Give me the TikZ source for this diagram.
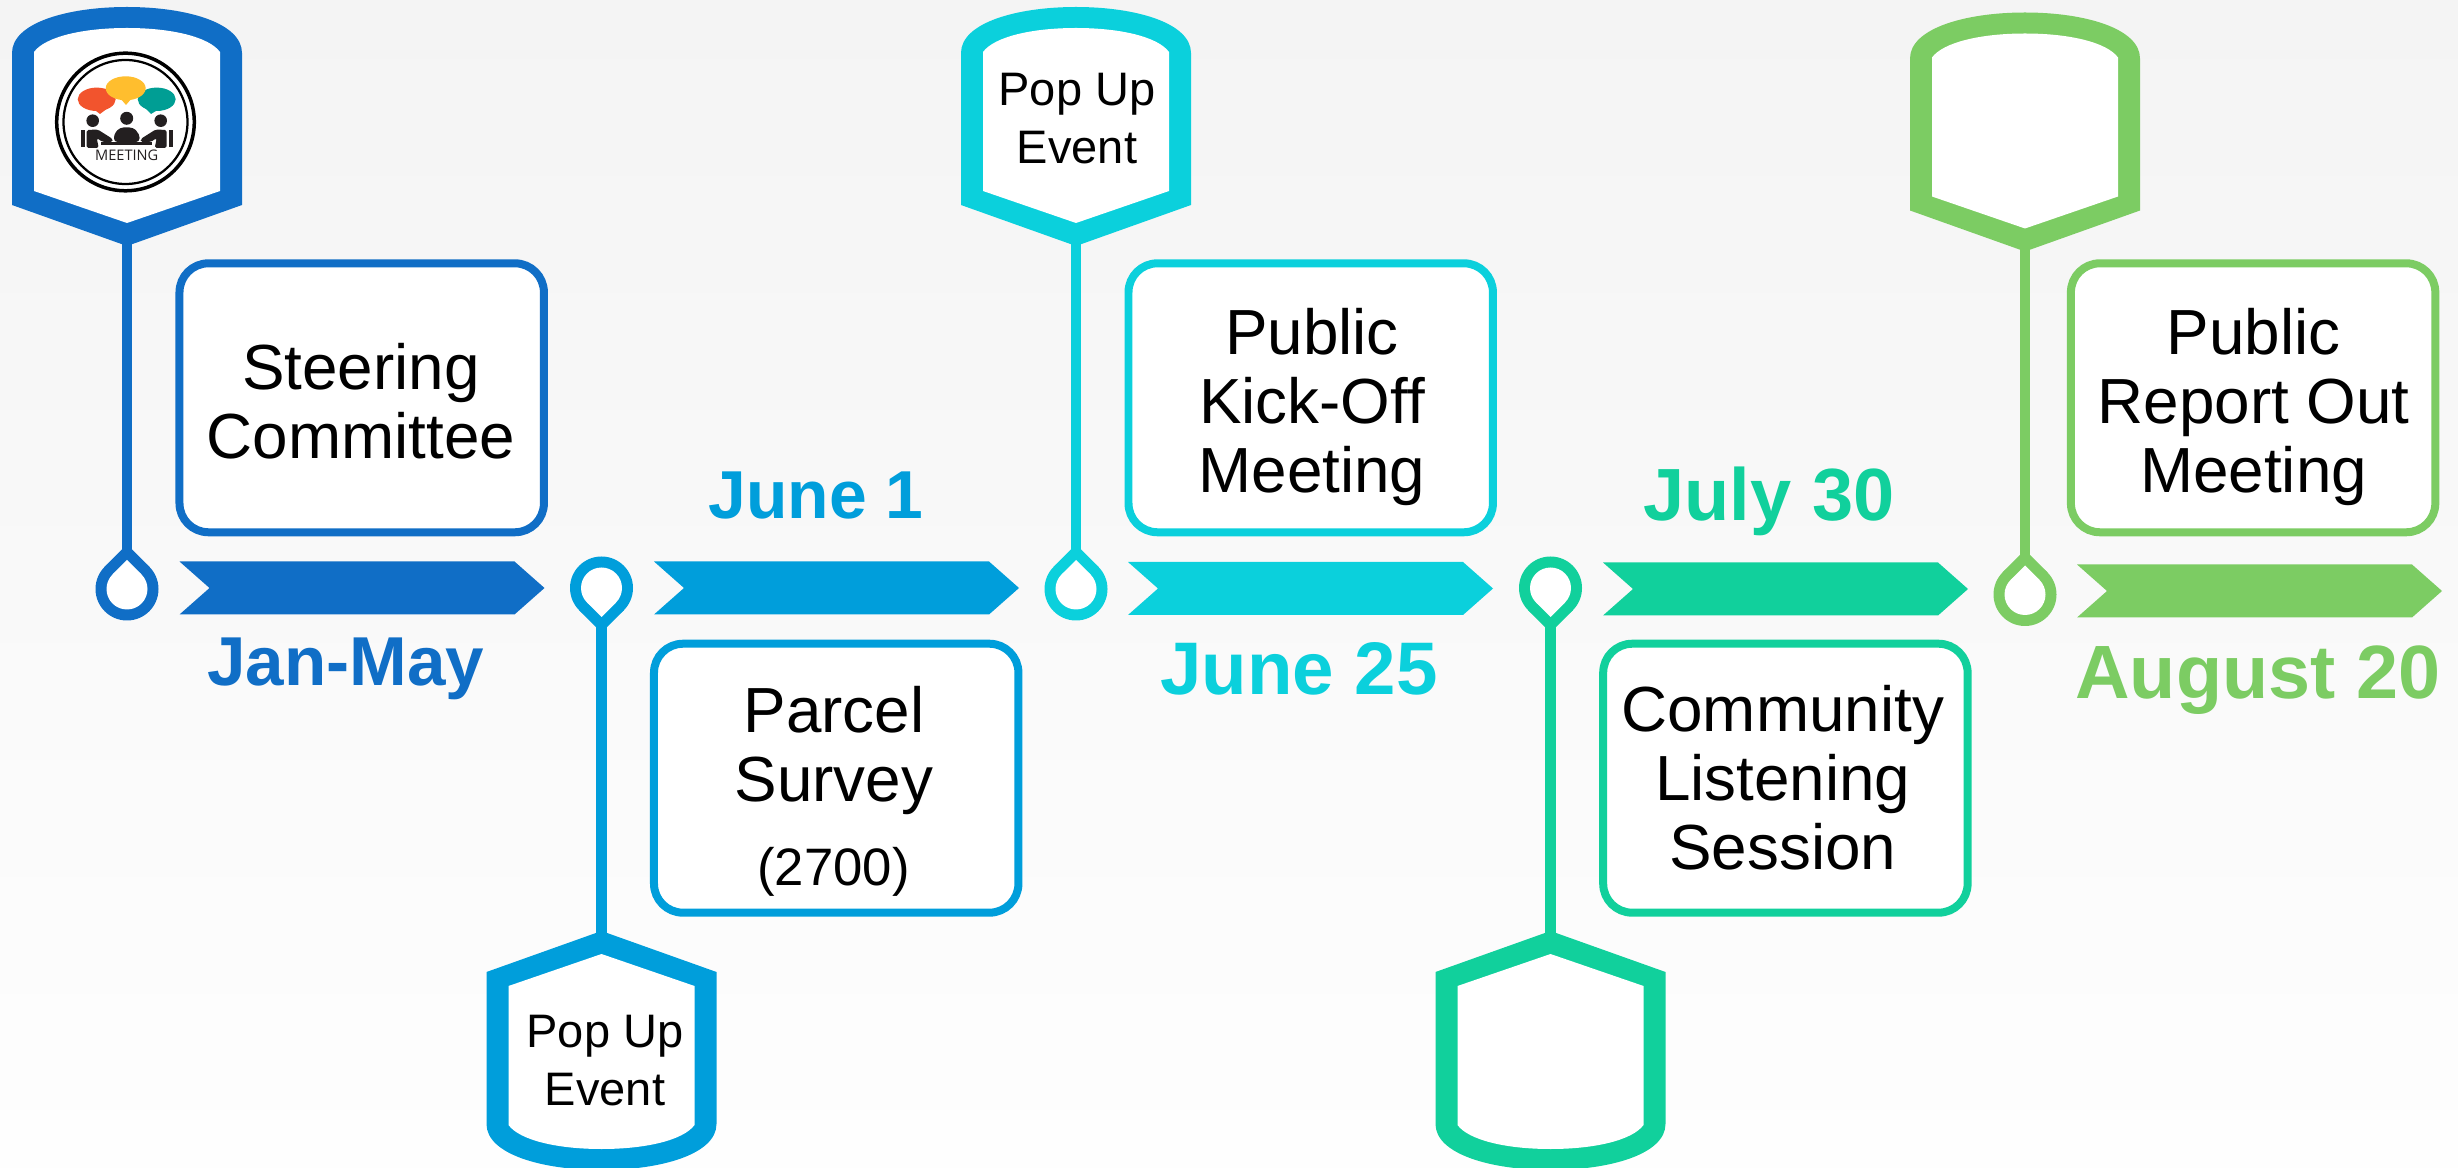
\documentclass[tikz,border=0pt]{standalone}
\usepackage{fontspec}
\usepackage{xcolor}
\setmainfont{Liberation Sans}
\newfontfamily\iconfont{Open Sans}

\definecolor{stagejan}{HTML}{106EC6}
\definecolor{stageparcel}{HTML}{009EDB}
\definecolor{stagekick}{HTML}{0BD0DC}
\definecolor{stagelisten}{HTML}{11D09C}
\definecolor{stagereport}{HTML}{7CCC63}
\definecolor{bgtop}{HTML}{F4F4F4}
\definecolor{bgbottom}{HTML}{FEFEFE}
\definecolor{bubbleorange}{HTML}{F2542D}
\definecolor{bubbleyellow}{HTML}{FFBE2E}
\definecolor{bubbleteal}{HTML}{009E94}
\definecolor{iconblack}{HTML}{231F20}

\tikzset{
    stagebox/.style={draw, fill=white, line width=0.16cm, rounded corners=0.58cm, minimum width=7.29cm, minimum height=5.38cm},
    stagetext/.style={align=center, inner sep=0pt, font=\fontsize{36.3pt}{39.3pt}\selectfont},
    poptext/.style={align=center, inner sep=0pt, font=\fontsize{26.75pt}{33pt}\selectfont},
    datelabel/.style={anchor=base, inner sep=0pt}
}

\begin{document}
\begin{tikzpicture}[x=0.02cm, y=-0.02cm]

    % Page and background
    \useasboundingbox (0,0) rectangle (2458,1168);
    \clip (0,0) rectangle (2458,1168);
    \shade[top color=bgtop, bottom color=bgbottom] (0,0) rectangle (2458,1168);

    % Pins, one head and one drop on each stem
    \foreach \name/\hue/\pinx/\piny/\flip in {jan/stagejan/127/589/1, parcel/stageparcel/601.5/588/-1, kick/stagekick/1076/589/1, listen/stagelisten/1550.5/588/-1, report/stagereport/2025/594.5/1} {
        \begin{scope}[shift={(\pinx,\piny)}, yscale=\flip]
            \coordinate (head\name) at (0,-350);
            \coordinate (drop\name) at (0,-30);
            % Stem
            \draw[\hue, line width=0.21cm] (head\name) -- (drop\name);
            % Head
            \fill[\hue] (-115,-536) .. controls (-115,-566) and (-60,-582) .. (0,-582) .. controls (60,-582) and (115,-566) .. (115,-536) -- (115,-384) -- (0,-343) -- (-115,-384) -- cycle;
            \fill[white] (-93,-537) .. controls (-82,-552) and (-45,-561) .. (0,-561) .. controls (45,-561) and (82,-552) .. (93,-537) -- (93,-398) -- (0,-366) -- (-93,-398) -- cycle;
            % Drop
            \fill[\hue] (0,0) circle[radius=31.5];
            \fill[\hue] (0,-44.5) -- (22.3,-22.3) -- (0,0) -- (-22.3,-22.3) -- cycle;
            \fill[white] (0,0) circle[radius=20.5];
            \fill[white] (0,-29) -- (14.5,-14.5) -- (0,0) -- (-14.5,-14.5) -- cycle;
        \end{scope}
    }

    % Chevrons on the time line
    \foreach \name/\hue/\chevx/\chevy in {jan/stagejan/179.5/588, parcel/stageparcel/654/588, kick/stagekick/1128/588.5, listen/stagelisten/1603/589, report/stagereport/2077/591} {
        \fill[\hue] (\chevx,\chevy-26.5) -- (\chevx+335,\chevy-26.5) -- (\chevx+365,\chevy) -- (\chevx+335,\chevy+26.5) -- (\chevx,\chevy+26.5) -- (\chevx+30,\chevy) -- cycle;
    }

    % Boxes
    \foreach \name/\hue/\boxx/\boxy in {jan/stagejan/361.7/397.8, parcel/stageparcel/836.2/778.2, kick/stagekick/1310.7/397.8, listen/stagelisten/1785.4/778.2, report/stagereport/2253.1/397.8} {
        \node[stagebox, draw=\hue] (box\name) at (\boxx,\boxy) {};
    }

    % Box texts
    \node[stagetext] (textjan) at (361,410.2) {\strut Steering\\\strut Committee};
    \node[stagetext] (textparcel) at (834,752.8) {\strut Parcel\\\strut Survey};
    \node[datelabel, font=\fontsize{30pt}{33pt}\selectfont] (countparcel) at (833.5,885.7) {(2700)};
    \node[stagetext] (textkick) at (1312,410) {\strut Public\\\strut Kick-Off\\\strut Meeting};
    \node[stagetext] (textlisten) at (1782.7,786.8) {\strut Community\\\strut Listening\\\strut Session};
    \node[stagetext] (textreport) at (2253.6,409.5) {\strut Public\\\strut Report Out\\\strut Meeting};

    % Texts in the heads
    \node[poptext] (popparcel) at (605,1064.5) {\strut Pop Up\\\strut Event};
    \node[poptext] (popkick) at (1077,122.8) {\strut Pop Up\\\strut Event};

    % Dates
    \foreach \name/\hue/\datex/\datey/\datesize/\datetext in {jan/stagejan/346/686/39.4/Jan-May, parcel/stageparcel/816/518.5/38.6/June 1, kick/stagekick/1299/694.5/42.4/June 25, listen/stagelisten/1769/520.5/42.1/July 30, report/stagereport/2258/698.5/43/August 20} {
        \node[datelabel, text=\hue, font=\fontsize{\datesize pt}{\datesize pt}\selectfont\bfseries] (date\name) at (\datex,\datey) {\datetext};
    }

    % Meeting icon
    \draw[black, line width=0.07cm] (125.5,122) circle[radius=68.8];
    \draw[black, line width=0.045cm] (125.5,122) circle[radius=62];
    \fill[bubbleorange] (96.7,99.3) ellipse[x radius=19, y radius=11.7];
    \fill[bubbleorange] (92,108) -- (108,108) -- (100,114) -- cycle;
    \fill[bubbleteal] (156.7,99.3) ellipse[x radius=19, y radius=11.7];
    \fill[bubbleteal] (145,108) -- (161,108) -- (151,114) -- cycle;
    \fill[bubbleyellow] (125.7,88.3) ellipse[x radius=20, y radius=12];
    \fill[bubbleyellow] (120,98) -- (132,98) -- (126,105) -- cycle;
    \fill[iconblack] (126.7,118.3) circle[radius=6.5];
    \fill[iconblack, rounded corners=2pt] (114,142) -- (114,134) -- (120,127.5) -- (133,127.5) -- (139.5,134) -- (139.5,142) -- cycle;
    \foreach \side in {1,-1} {
        \begin{scope}[shift={(126.7,0)}, xscale=\side]
            \fill[iconblack] (-34,120.7) circle[radius=6.3];
            \fill[iconblack, rounded corners=1pt] (-40,130) -- (-29,129.5) -- (-14,139) -- (-14,142) -- (-24,142) -- (-30,138) -- (-28,148) -- (-40,148) -- cycle;
            \fill[iconblack] (-46,130) rectangle (-42,147.5);
        \end{scope}
    }
    \fill[iconblack] (101,142) rectangle (152,145);
    \node[datelabel, text=iconblack, font=\iconfont\fontsize{8.3pt}{8.3pt}\selectfont] (iconlabel) at (126.7,160.7) {MEETING};

\end{tikzpicture}
\end{document}
